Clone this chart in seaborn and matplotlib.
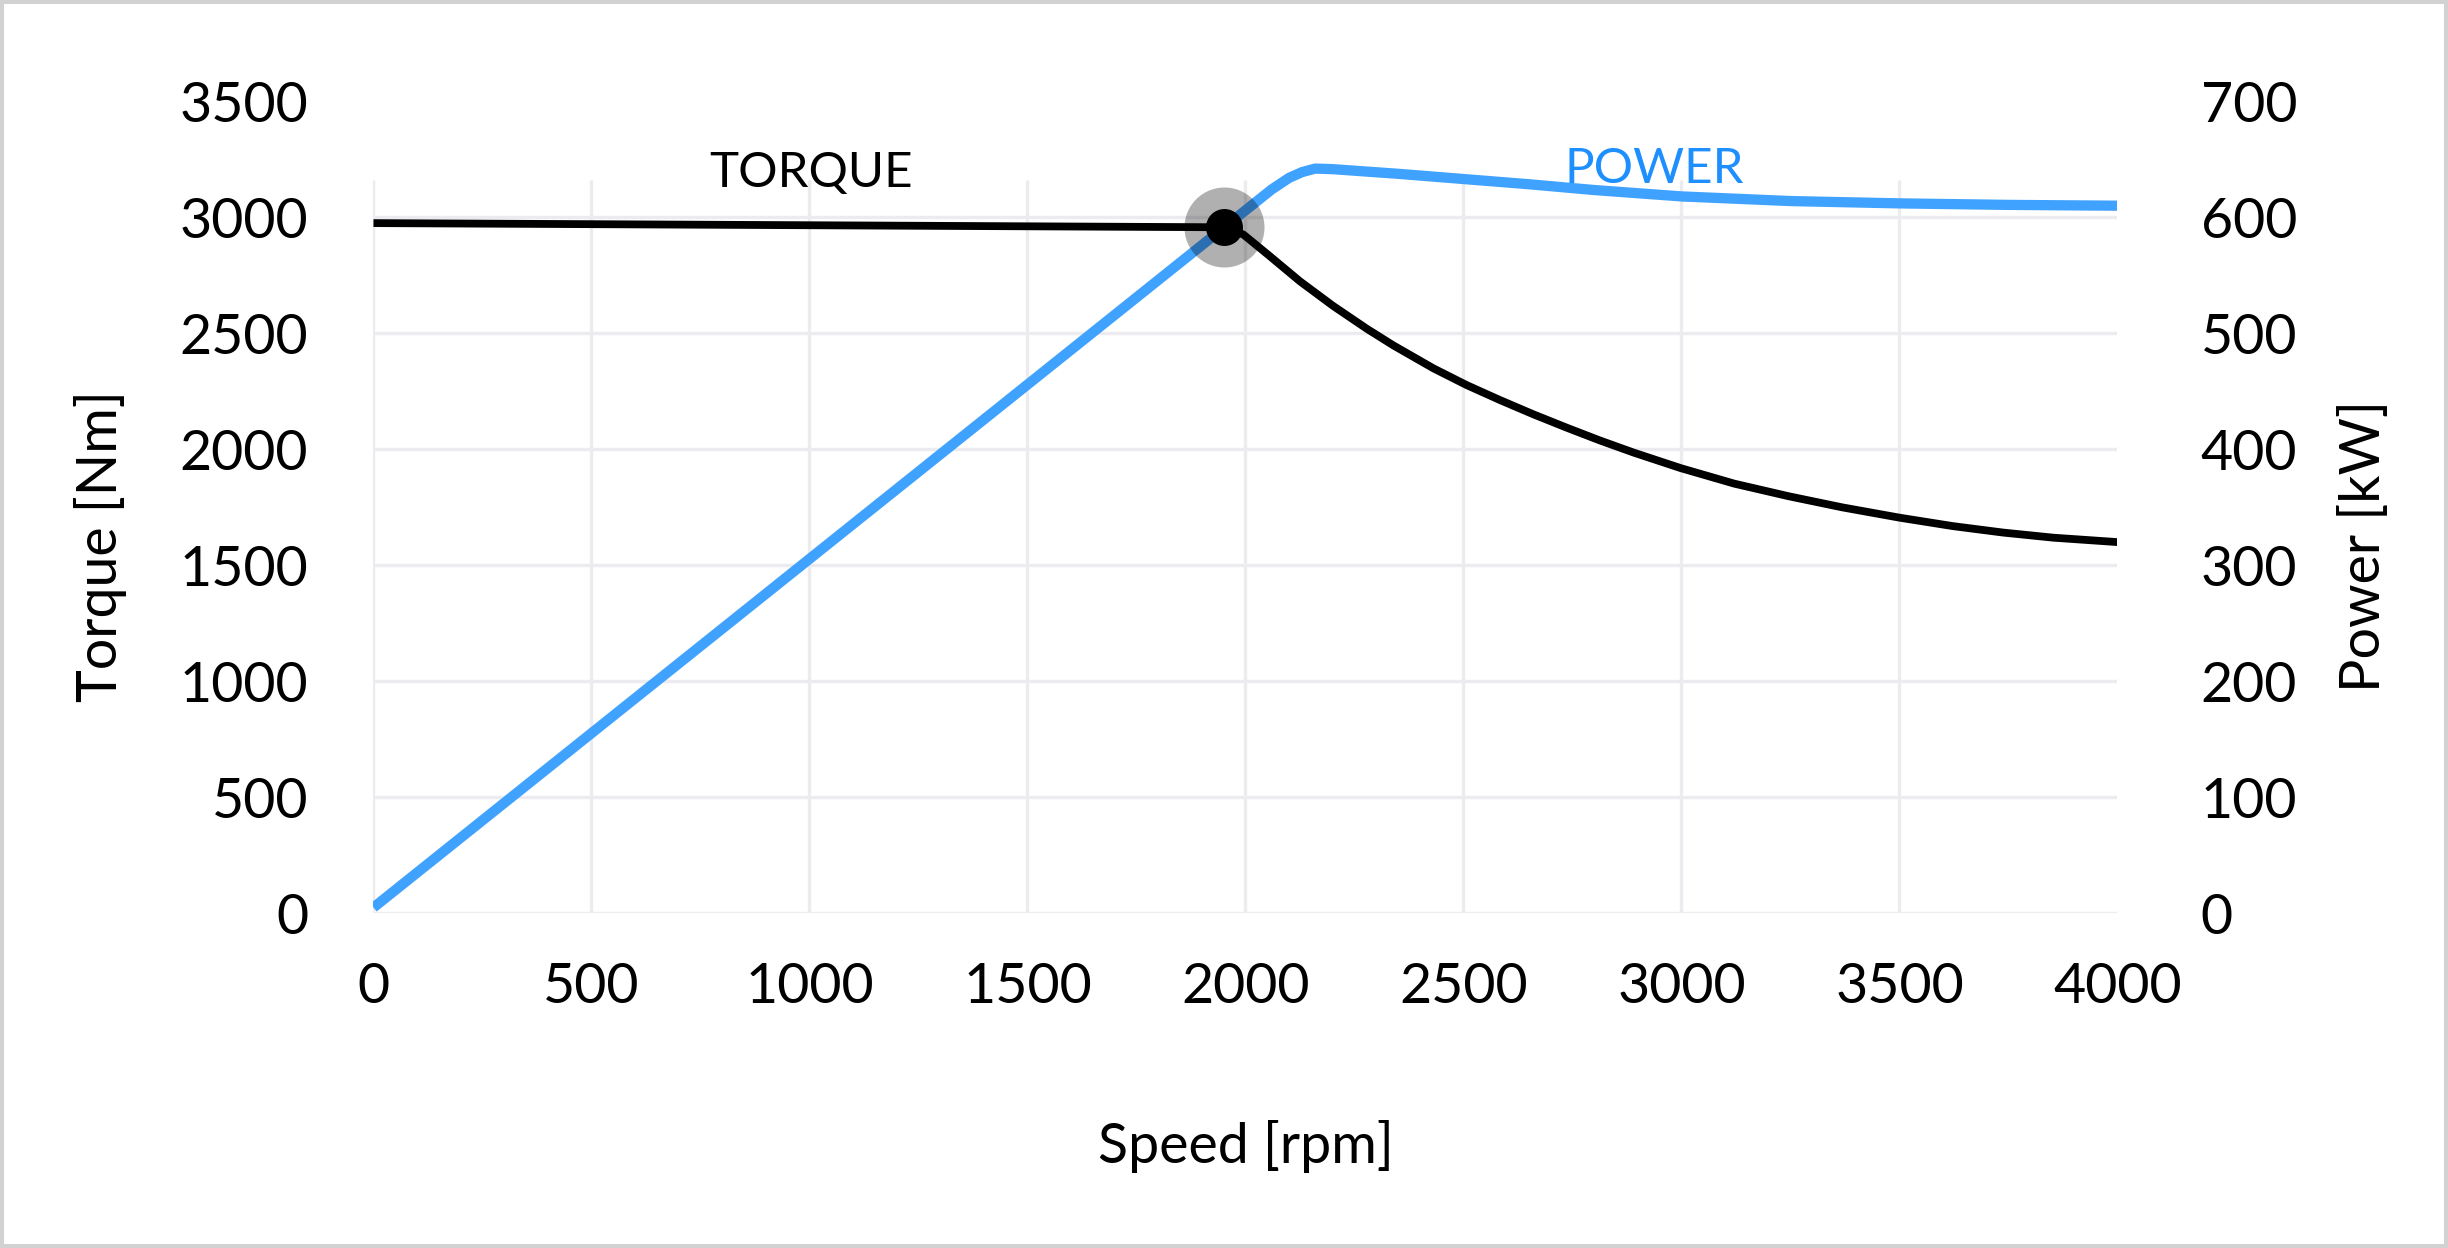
import matplotlib
matplotlib.use("Agg")
import matplotlib.pyplot as plt
from matplotlib.patches import Rectangle
import numpy as np
import pandas as pd
import seaborn as sns

# ---------------- data ----------------
speed_ticks = [0, 500, 1000, 1500, 2000, 2500, 3000, 3500, 4000]
torque_ticks = [0, 500, 1000, 1500, 2000, 2500, 3000, 3500]
power_ticks = [0, 100, 200, 300, 400, 500, 600, 700]
speed_tick_labels = ["0", "500", "1000", "1500", "2000", "2500", "3000", "3500", "4000"]
torque_tick_labels = ["0", "500", "1000", "1500", "2000", "2500", "3000", "3500"]
power_tick_labels = ["0", "100", "200", "300", "400", "500", "600", "700"]

torque_speed = [0, 1950, 1995, 2049, 2125, 2201, 2278, 2339, 2431, 2507, 2584, 2660,
                2737, 2813, 2890, 2998, 3121, 3245, 3368, 3501, 3622, 3738, 3853, 4000]
torque_nm = [2975, 2957, 2926, 2843, 2724, 2618, 2520, 2448, 2349, 2277, 2212, 2151,
             2093, 2038, 1986, 1919, 1852, 1798, 1750, 1705, 1669, 1641, 1619, 1600]

power_speed = [0, 1950, 2060, 2100, 2130, 2160, 2200, 2350, 2500, 2650, 2800, 3000,
               3250, 3500, 3750, 4000]
power_kw = [5, 591, 624, 634, 639, 642, 641.5, 637.5, 633, 628.5, 623.5, 618,
            614, 612, 610.7, 610]

# ---------------- style ----------------
sns.set_theme(style="white")
plt.rcParams["font.family"] = ["Lato", "DejaVu Sans"]

BLUE = "#40a2ff"
BLUE_TEXT = "#1e8fff"
GRID = "#ebebf0"

fig = plt.figure(figsize=(24.48, 12.48), dpi=100)
fig.patch.set_facecolor("white")
ax = fig.add_axes([0.15257, 0.26819, 0.71242, 0.65064])
ax2 = ax.twinx()
ax.set_zorder(ax2.get_zorder() + 1)
ax.patch.set_visible(False)

# grid (drawn on the lower axes, below the lines)
ax2.hlines(power_ticks[:-1], speed_ticks[0], speed_ticks[-1], color=GRID, linewidth=2.4, zorder=0)
ax2.vlines(speed_ticks[:-1], 0, 632, color=GRID, linewidth=2.4, zorder=0)

# power line
sns.lineplot(x=power_speed, y=power_kw, ax=ax2, color=BLUE, linewidth=7.4,
             estimator=None, sort=False, zorder=2)
for ln in ax2.get_lines():
    ln.set_linewidth(7.4)
    ln.set_solid_joinstyle("round")
    ln.set_solid_capstyle("butt")

# torque line
sns.lineplot(x=torque_speed, y=torque_nm, ax=ax, color="black", linewidth=5.6,
             estimator=None, sort=False, zorder=2)
for ln in ax.get_lines():
    ln.set_linewidth(5.6)
    ln.set_solid_joinstyle("round")
    ln.set_solid_capstyle("butt")

# transition point marker
knee_speed = [torque_speed[1]]
knee_torque = [torque_nm[1]]
sns.scatterplot(x=knee_speed, y=knee_torque, ax=ax, s=3318, color="black",
                alpha=0.31, linewidth=0, zorder=3)
sns.scatterplot(x=knee_speed, y=knee_torque, ax=ax, s=709, color="black",
                linewidth=0, zorder=4)

# limits / ticks
ax.set_xlim(speed_ticks[0], speed_ticks[-1])
ax.set_ylim(torque_ticks[0], torque_ticks[-1])
ax2.set_ylim(power_ticks[0], power_ticks[-1])
ax.set_xticks(speed_ticks)
ax.set_xticklabels(speed_tick_labels)
ax.set_yticks(torque_ticks)
ax.set_yticklabels(torque_tick_labels)
ax2.set_yticks(power_ticks)
ax2.set_yticklabels(power_tick_labels)

ax.tick_params(axis="both", length=0, labelsize=40, colors="black")
ax.tick_params(axis="y", pad=47)
ax.tick_params(axis="x", pad=35)
ax2.tick_params(axis="y", length=0, labelsize=40, pad=60, colors="black")
ax.grid(False)
ax2.grid(False)
for a in (ax, ax2):
    for s in a.spines.values():
        s.set_visible(False)

# axis labels
ax.set_xlabel("Speed [rpm]", fontsize=40, color="black")
ax.xaxis.label.set_va("center")
ax.xaxis.set_label_coords(0.5, -0.2866)
ax.set_ylabel("Torque [Nm]", fontsize=40, color="black")
ax.yaxis.label.set_rotation_mode("default")
ax.yaxis.label.set_va("center")
ax.yaxis.label.set_ha("center")
ax.yaxis.set_label_coords(-0.1568, 0.4523)
ax2.set_ylabel("Power [kW]", fontsize=40, color="black", rotation=90)
ax2.yaxis.label.set_rotation_mode("default")
ax2.yaxis.label.set_va("center")
ax2.yaxis.label.set_ha("center")
ax2.yaxis.set_label_coords(1.1419, 0.4523)

# series annotations
ax.text(1003, 3130, "TORQUE", fontsize=35.5, color="black", ha="center", va="baseline")
ax.text(2938, 3147, "POWER", fontsize=35.5, color=BLUE_TEXT, ha="center", va="baseline")

# light frame around the figure
fig.patches.append(Rectangle((0, 0), 1, 1, transform=fig.transFigure, fill=False,
                             edgecolor="#d2d2d2", linewidth=5.8, zorder=10))

fig.savefig("out.png", dpi=100, facecolor="white")
